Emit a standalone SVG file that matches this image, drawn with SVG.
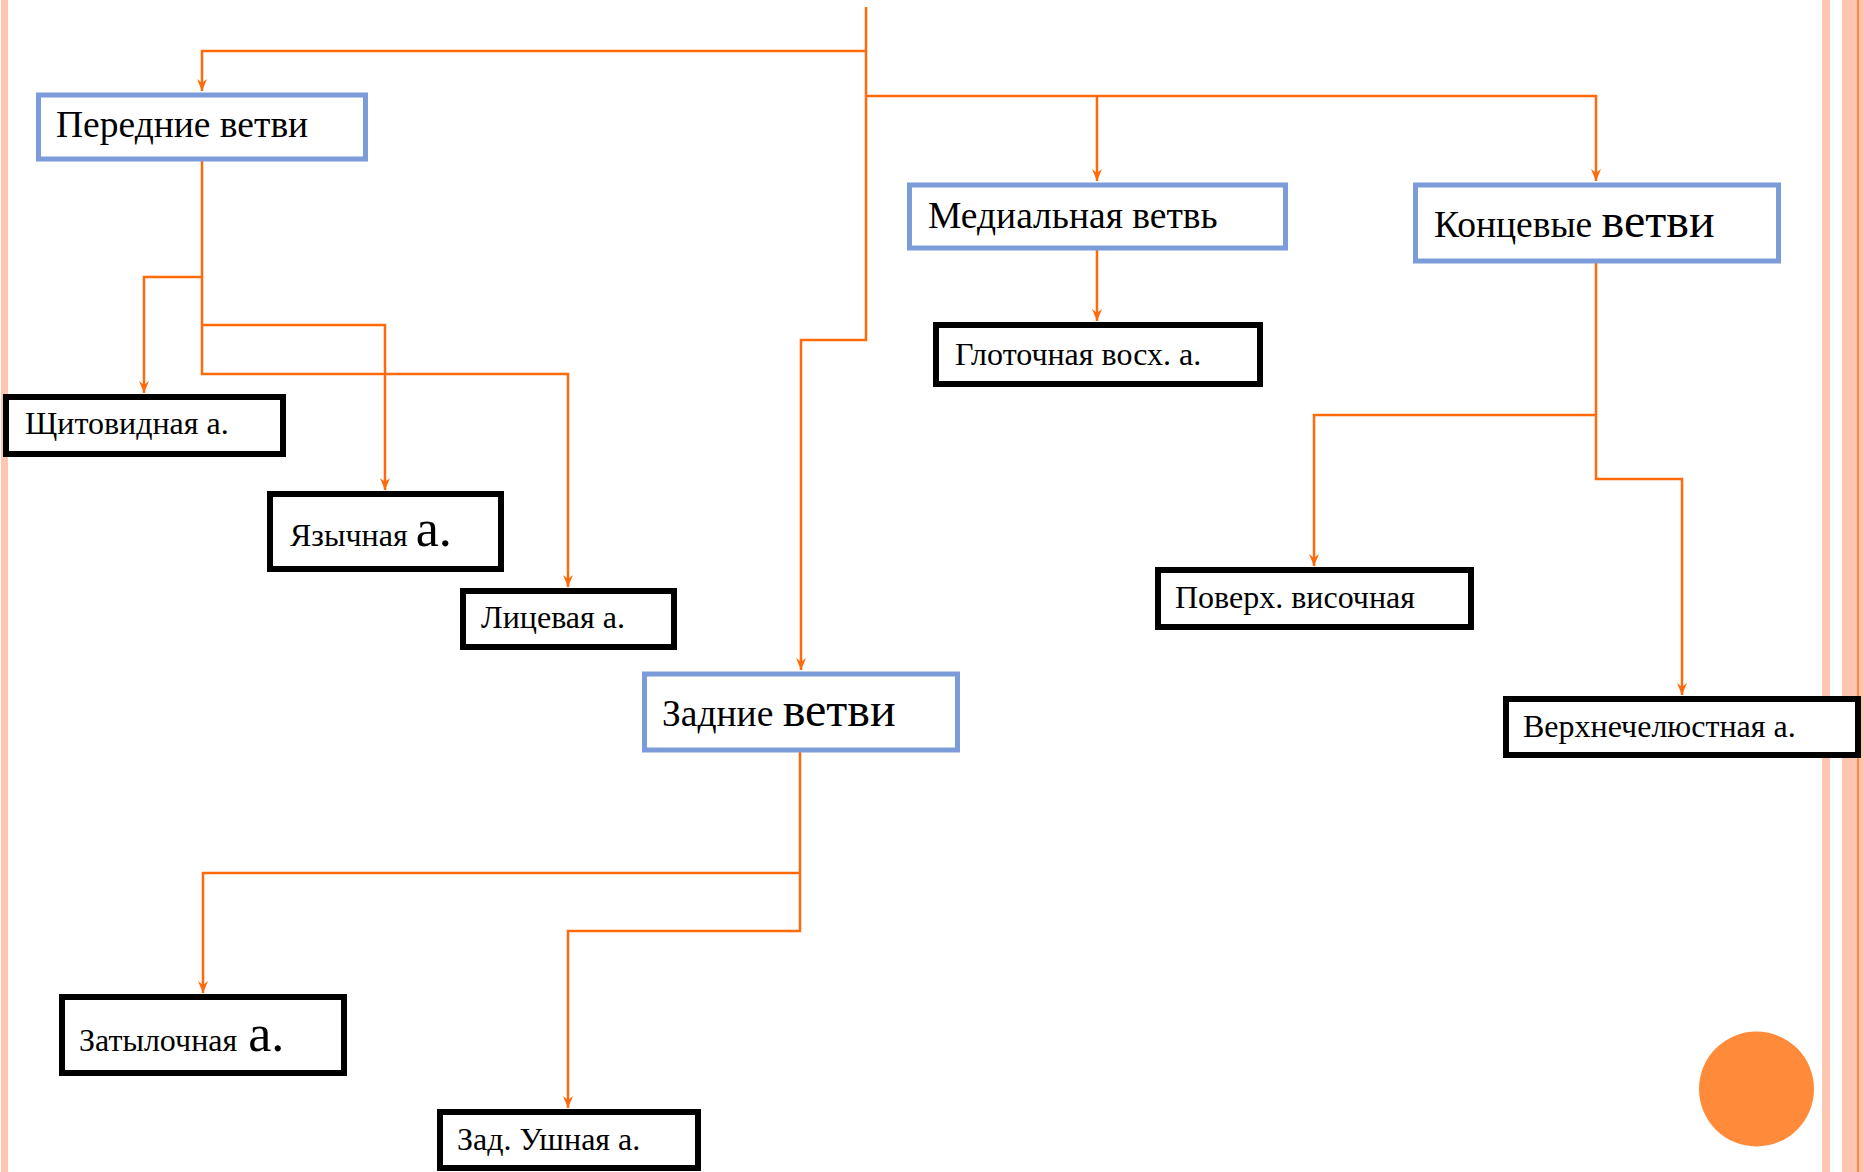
<svg xmlns="http://www.w3.org/2000/svg" width="1864" height="1172" viewBox="0 0 1864 1172">
  <defs>
    <marker id="arrow" viewBox="0 0 12 10" refX="12" refY="5" markerWidth="12" markerHeight="10" markerUnits="userSpaceOnUse" orient="auto">
      <path d="M0,0 L12,5 L0,10 L4,5 Z" fill="#FF6A0A"/>
    </marker>
    <style>
      .bg-stripe { fill: #FEC6B1; }
      .wire { fill: none; stroke: #FF6A0A; stroke-width: 2.5; }
      .group-box { fill: #FFFFFF; stroke: #7B9BD9; stroke-width: 5; }
      .leaf-box { fill: #FFFFFF; stroke: #000000; stroke-width: 6; }
      .lbl { font-family: "Liberation Serif", "Times New Roman", serif; fill: #000000; }
      .big { font-size: 37.5px; }
      .small { font-size: 32px; }
      .xl { font-size: 48px; }
      .xa { font-size: 52px; }
    </style>
  </defs>

  <!-- page background and side stripes -->
  <rect x="0" y="0" width="1864" height="1172" fill="#FFFFFF"/>
  <rect class="bg-stripe" x="1" y="0" width="7" height="1172"/>
  <rect class="bg-stripe" x="1822" y="0" width="8" height="1172"/>
  <rect class="bg-stripe" x="1842" y="0" width="22" height="1172"/>
  <rect x="1857" y="0" width="2" height="1172" fill="#FF8A3A"/>
  <circle cx="1756.5" cy="1089" r="57.5" fill="#FF8B3A"/>

  <!-- connectors -->
  <g id="connectors">
    <!-- main trunk -->
    <path class="wire" d="M866,7 V340 H801 V670" marker-end="url(#arrow)"/>
    <path class="wire" d="M866,51 H202 V91" marker-end="url(#arrow)"/>
    <path class="wire" d="M866,96 H1596 V181" marker-end="url(#arrow)"/>
    <path class="wire" d="M1097,96 V181" marker-end="url(#arrow)"/>
    <!-- anterior branches -->
    <path class="wire" d="M202,161 V374 H568 V587" marker-end="url(#arrow)"/>
    <path class="wire" d="M202,277 H144 V393" marker-end="url(#arrow)"/>
    <path class="wire" d="M202,325 H385 V490" marker-end="url(#arrow)"/>
    <!-- medial branch -->
    <path class="wire" d="M1097,250 V321" marker-end="url(#arrow)"/>
    <!-- terminal branches -->
    <path class="wire" d="M1596,263 V479 H1682 V695" marker-end="url(#arrow)"/>
    <path class="wire" d="M1596,415 H1314 V566" marker-end="url(#arrow)"/>
    <!-- posterior branches -->
    <path class="wire" d="M800,752 V931 H568 V1108" marker-end="url(#arrow)"/>
    <path class="wire" d="M800,873 H203 V993" marker-end="url(#arrow)"/>
  </g>

  <!-- group nodes -->
  <g id="anterior">
    <rect class="group-box" x="38.5" y="95" width="327" height="64"/>
    <text class="lbl big" x="56" y="137">Передние ветви</text>
  </g>
  <g id="medial">
    <rect class="group-box" x="909.5" y="185" width="376" height="63"/>
    <text class="lbl big" x="928" y="228">Медиальная ветвь</text>
  </g>
  <g id="terminal">
    <rect class="group-box" x="1415.5" y="185" width="363" height="76"/>
    <text class="lbl big" x="1434" y="237">Концевые <tspan class="xl">ветви</tspan></text>
  </g>
  <g id="posterior">
    <rect class="group-box" x="644.5" y="674" width="313" height="76"/>
    <text class="lbl big" x="662" y="726">Задние <tspan class="xl">ветви</tspan></text>
  </g>

  <!-- leaf nodes -->
  <g id="thyroid">
    <rect class="leaf-box" x="6" y="397" width="277" height="57"/>
    <text class="lbl small" x="25" y="434">Щитовидная а.</text>
  </g>
  <g id="lingual">
    <rect class="leaf-box" x="270" y="494" width="231" height="75"/>
    <text class="lbl small" x="290" y="546">Язычная <tspan class="xa">а.</tspan></text>
  </g>
  <g id="facial">
    <rect class="leaf-box" x="463" y="591" width="211" height="56"/>
    <text class="lbl small" x="481" y="628">Лицевая а.</text>
  </g>
  <g id="pharyngeal">
    <rect class="leaf-box" x="936" y="325" width="324" height="59"/>
    <text class="lbl small" x="955" y="365">Глоточная восх. а.</text>
  </g>
  <g id="temporal">
    <rect class="leaf-box" x="1158" y="570" width="313" height="57"/>
    <text class="lbl small" x="1175" y="608">Поверх. височная</text>
  </g>
  <g id="maxillary">
    <rect class="leaf-box" x="1506" y="699" width="352" height="56"/>
    <text class="lbl small" x="1523" y="737">Верхнечелюстная а.</text>
  </g>
  <g id="occipital">
    <rect class="leaf-box" x="62" y="997" width="282" height="76"/>
    <text class="lbl small" x="79" y="1051">Затылочная <tspan class="xa" dx="3">а.</tspan></text>
  </g>
  <g id="auricular">
    <rect class="leaf-box" x="440" y="1112" width="258" height="56"/>
    <text class="lbl small" x="457" y="1150">Зад. Ушная а.</text>
  </g>
</svg>
